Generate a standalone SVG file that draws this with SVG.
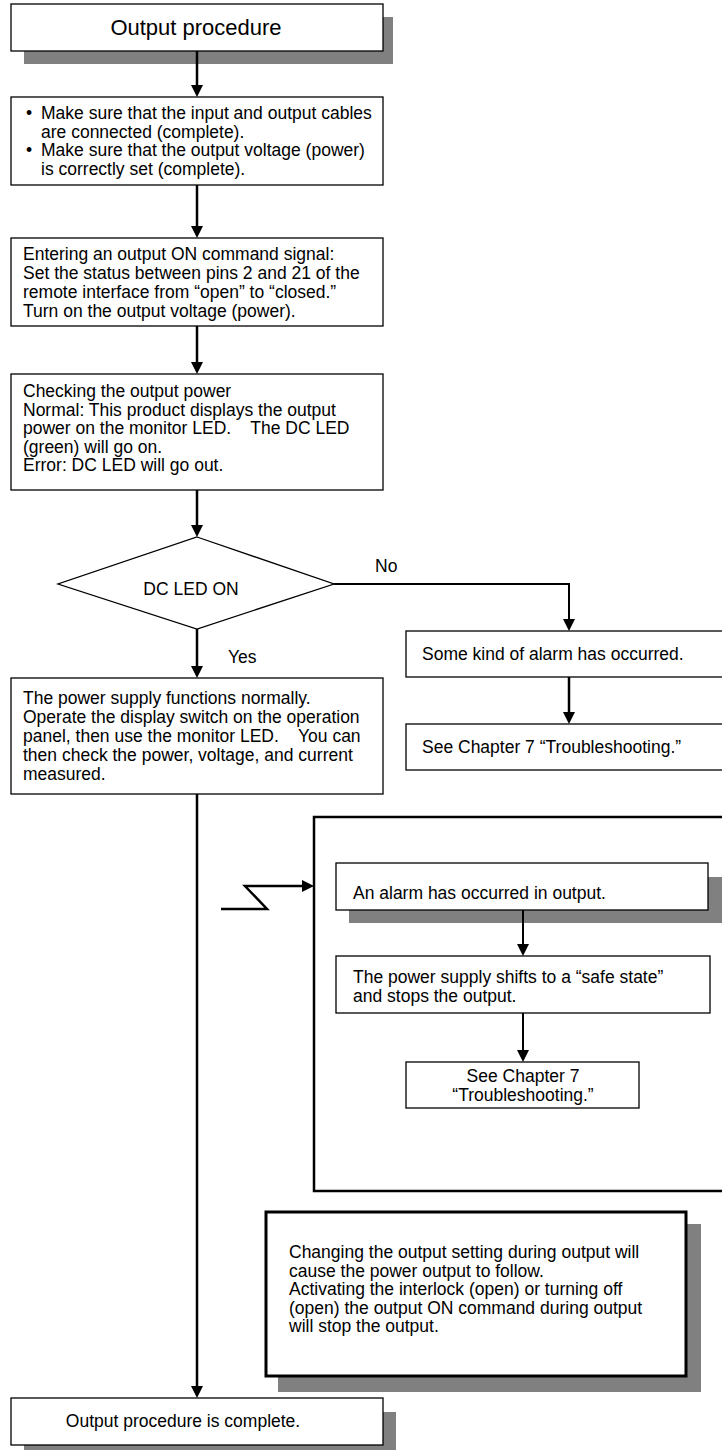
<svg xmlns="http://www.w3.org/2000/svg" width="722" height="1450" viewBox="0 0 722 1450">
<defs>
<style>
.box{fill:#fff;stroke:#000;stroke-width:1.3}
.shadow{fill:#808080;stroke:none}
.t{font-family:"Liberation Sans",Arial,Helvetica,sans-serif;font-size:17.5px;fill:#000;white-space:pre}
.title{font-family:"Liberation Sans",Arial,Helvetica,sans-serif;font-size:22px;fill:#000}
.c{text-anchor:middle}
.conn{fill:none;stroke:#000;stroke-width:2.5}
.conn2{fill:none;stroke:#000;stroke-width:2}
.frame{fill:none;stroke:#000;stroke-width:2.5}
.note{fill:#fff;stroke:#000;stroke-width:3}
</style>
<marker id="ah" markerUnits="userSpaceOnUse" markerWidth="12" markerHeight="12" refX="4" refY="6" orient="auto">
<path d="M0,0 L12,6 L0,12 z" fill="#000"/>
</marker>
</defs>
<rect width="722" height="1450" fill="#fff"/>

<g id="frame-alarm">
<rect class="frame" x="314" y="817" width="420" height="374"/>
</g>

<g id="n-title">
<rect class="shadow" x="24" y="17" width="369" height="47"/>
<rect class="box" x="11" y="4" width="372" height="47"/>
<text class="title c" x="196" y="35">Output procedure</text>
</g>

<g id="n-check-cables">
<rect class="box" x="11" y="97" width="372" height="88"/>
<text class="t" x="26" y="119">•</text>
<text class="t" x="41" y="119">Make sure that the input and output cables</text>
<text class="t" x="41" y="137.5">are connected (complete).</text>
<text class="t" x="26" y="156">•</text>
<text class="t" x="41" y="156">Make sure that the output voltage (power)</text>
<text class="t" x="41" y="174.5">is correctly set (complete).</text>
</g>

<g id="n-output-on">
<rect class="box" x="11" y="238" width="372" height="88"/>
<text class="t" x="23" y="260">Entering an output ON command signal:</text>
<text class="t" x="23" y="279">Set the status between pins 2 and 21 of the</text>
<text class="t" x="23" y="298">remote interface from “open” to “closed.”</text>
<text class="t" x="23" y="317">Turn on the output voltage (power).</text>
</g>

<g id="n-check-power">
<rect class="box" x="11" y="374" width="372" height="116"/>
<text class="t" x="23" y="397">Checking the output power</text>
<text class="t" x="23" y="415.5">Normal: This product displays the output</text>
<text class="t" x="23" y="434" xml:space="preserve">power on the monitor LED.    The DC LED</text>
<text class="t" x="23" y="452.5">(green) will go on.</text>
<text class="t" x="23" y="471">Error: DC LED will go out.</text>
</g>

<g id="n-decision">
<polygon class="box" points="197,537 334,584 197,629 58,584"/>
<text class="t c" x="191" y="595">DC LED ON</text>
</g>

<g id="n-alarm-some">
<rect class="box" x="406" y="631" width="330" height="46"/>
<text class="t" x="422" y="660">Some kind of alarm has occurred.</text>
</g>

<g id="n-see-ch7-a">
<rect class="box" x="406" y="724" width="330" height="46"/>
<text class="t" x="422" y="753">See Chapter 7 “Troubleshooting.”</text>
</g>

<g id="n-normal">
<rect class="box" x="11" y="678" width="372" height="116"/>
<text class="t" x="23" y="704">The power supply functions normally.</text>
<text class="t" x="23" y="723">Operate the display switch on the operation</text>
<text class="t" x="23" y="742" xml:space="preserve">panel, then use the monitor LED.    You can</text>
<text class="t" x="23" y="761">then check the power, voltage, and current</text>
<text class="t" x="23" y="780">measured.</text>
</g>

<g id="n-alarm-output">
<rect class="shadow" x="349" y="877" width="373" height="46"/>
<rect class="box" x="336" y="863" width="372" height="47"/>
<text class="t" x="353" y="899">An alarm has occurred in output.</text>
</g>

<g id="n-safe-state">
<rect class="box" x="336" y="956" width="374" height="57"/>
<text class="t" x="353" y="983">The power supply shifts to a “safe state”</text>
<text class="t" x="353" y="1002">and stops the output.</text>
</g>

<g id="n-see-ch7-b">
<rect class="box" x="406" y="1062" width="233" height="46"/>
<text class="t c" x="523" y="1082">See Chapter 7</text>
<text class="t c" x="523" y="1101">“Troubleshooting.”</text>
</g>

<g id="n-note">
<rect class="shadow" x="278" y="1224" width="423" height="168"/>
<rect class="note" x="266" y="1212" width="420" height="164"/>
<text class="t" x="289" y="1258">Changing the output setting during output will</text>
<text class="t" x="289" y="1276.5">cause the power output to follow.</text>
<text class="t" x="289" y="1295">Activating the interlock (open) or turning off</text>
<text class="t" x="289" y="1313.5">(open) the output ON command during output</text>
<text class="t" x="289" y="1332">will stop the output.</text>
</g>

<g id="n-complete">
<rect class="shadow" x="24" y="1412" width="372" height="38"/>
<rect class="box" x="11" y="1398" width="372" height="47"/>
<text class="t c" x="183" y="1427">Output procedure is complete.</text>
</g>

<g id="connectors">
<path class="conn" d="M197,51 V89" marker-end="url(#ah)"/>
<path class="conn" d="M197,185 V230" marker-end="url(#ah)"/>
<path class="conn" d="M197,326 V366" marker-end="url(#ah)"/>
<path class="conn" d="M197,490 V529" marker-end="url(#ah)"/>
<path class="conn2" d="M334,584 H569 V623" marker-end="url(#ah)"/>
<path class="conn" d="M569,677 V716" marker-end="url(#ah)"/>
<path class="conn" d="M197,629 V670" marker-end="url(#ah)"/>
<path class="conn" d="M197,794 V1390" marker-end="url(#ah)"/>
<path class="conn" d="M221,909 H267 L245,886 H306" stroke-width="3" marker-end="url(#ah)"/>
<path class="conn2" d="M523,910 V948" marker-end="url(#ah)"/>
<path class="conn2" d="M523,1013 V1054" marker-end="url(#ah)"/>
<text class="t" x="375" y="572">No</text>
<text class="t" x="228" y="663">Yes</text>
</g>
</svg>
